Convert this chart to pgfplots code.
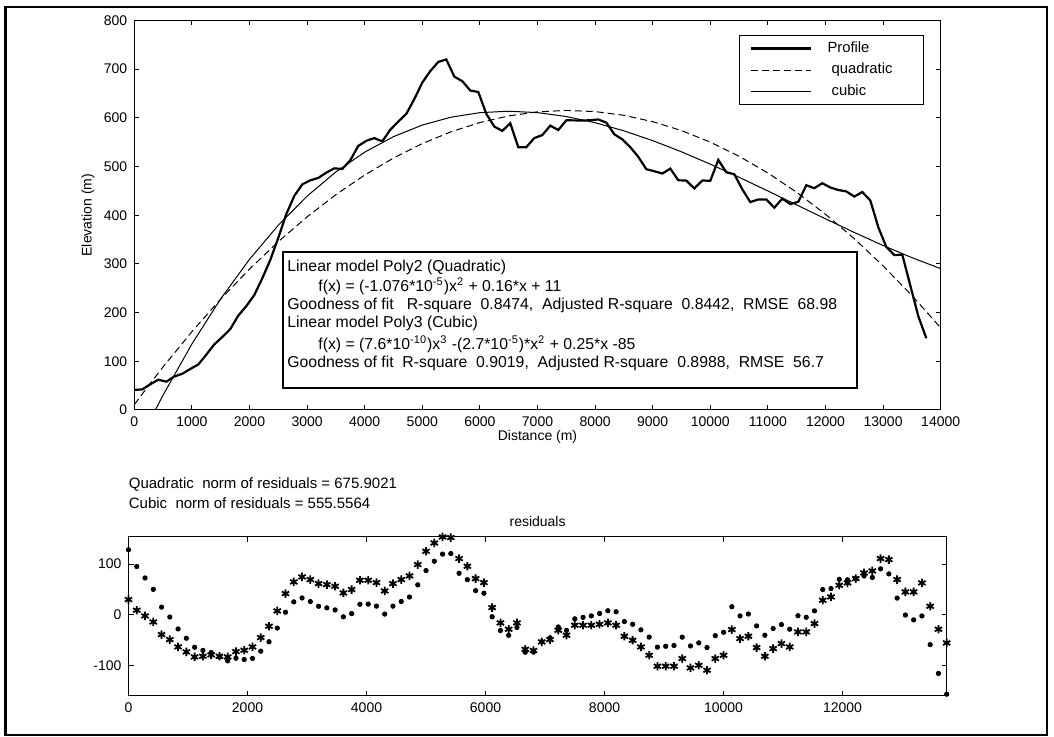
\documentclass[border=0pt]{standalone}
\usepackage{pgfplots}
\pgfplotsset{compat=1.18}
\usepackage{pgfplotstable}
\usepackage{fontspec}
\setmainfont{Liberation Sans}

\pgfplotstableread{
x P rq rc
0 41.2 30.2 128.2
138.9 42.3 9.2 95.3
277.8 52.8 -2.0 72.8
416.7 62.2 -13.8 50.3
555.6 58.2 -38.7 15.3
694.4 68.7 -48.6 -4.2
833.3 74.4 -63.0 -27.6
972.2 84.2 -72.8 -45.9
1111.1 93.5 -82.7 -63.7
1250 113.6 -81.4 -69.8
1388.9 134.7 -78.7 -74.0
1527.8 149.9 -81.4 -83.1
1666.7 166.2 -82.7 -90.4
1805.6 193.9 -72.2 -85.3
1944.4 213.2 -69.6 -87.7
2083.3 236.1 -63.0 -85.7
2222.2 270.4 -44.6 -71.4
2361.1 308.2 -22.3 -52.8
2500 353.5 7.9 -25.9
2638.9 402.3 42.0 5.3
2777.8 439.6 65.0 25.7
2916.7 463.3 74.8 33.4
3055.6 471.5 69.6 26.4
3194.4 476.6 61.7 17.0
3333.3 487.3 59.7 13.9
3472.2 496.2 56.4 9.8
3611.1 494.9 43.3 -3.8
3750 512.9 49.9 2.6
3888.9 542.2 68.2 20.9
4027.8 552.7 68.2 21.3
4166.7 558.3 63.6 17.3
4305.6 551.6 47.2 1.7
4444.4 575.5 61.7 17.3
4583.3 592.3 69.6 26.5
4722.2 608.0 76.8 35.2
4861.1 638.4 99.1 59.2
5000 672.3 125.3 87.3
5138.9 696.0 141.7 105.7
5277.8 714.7 153.5 119.7
5416.7 719.8 152.2 120.8
5555.6 684.6 110.9 81.9
5694.4 675.1 95.8 69.4
5833.3 656.0 71.5 47.8
5972.2 652.9 63.6 42.7
6111.1 608.1 14.4 -3.6
6250 582.0 -15.7 -30.7
6388.9 573.1 -28.2 -40.2
6527.8 588.8 -15.7 -24.7
6666.7 539.6 -67.6 -73.5
6805.6 539.6 -70.0 -72.8
6944.4 558.4 -53.1 -52.8
7083.3 564.4 -48.6 -45.2
7222.2 583.9 -30.2 -23.7
7361.1 574.8 -40.0 -30.5
7500 594.8 -20.3 -7.7
7638.9 594.7 -20.3 -4.8
7777.8 594.2 -20.3 -1.9
7916.7 595.1 -18.4 2.8
8055.6 596.5 -15.7 8.2
8194.4 590.1 -20.3 6.2
8333.3 566.2 -42.0 -13.0
8472.2 555.7 -49.9 -18.5
8611.1 539.6 -63.0 -29.4
8750 519.8 -79.4 -43.7
8888.9 494.4 -101.0 -63.4
9027.8 490.2 -101.0 -61.7
9166.7 485.5 -101.0 -60.2
9305.6 495.6 -85.9 -43.8
9444.4 471.7 -104.3 -61.1
9583.3 471.0 -99.1 -55.0
9722.2 454.9 -108.9 -64.2
9861.1 471.2 -85.9 -40.8
10000 470.6 -79.4 -34.2
10138.9 513.6 -28.9 16.1
10277.8 488.0 -46.6 -2.0
10416.7 484.2 -42.0 1.8
10555.6 453.1 -64.3 -21.6
10694.4 426.9 -81.4 -40.1
10833.3 432.4 -66.3 -26.8
10972.2 432.3 -56.4 -19.0
11111.1 415.3 -63.0 -28.1
11250 434.0 -33.5 -1.5
11388.9 422.8 -33.5 -4.7
11527.8 427.5 -17.1 8.0
11666.7 461.5 28.9 49.9
11805.6 455.5 35.4 51.9
11944.4 465.6 58.4 70.0
12083.3 456.9 63.0 69.2
12222.2 451.7 71.5 71.8
12361.1 448.8 82.7 76.7
12500 438.2 86.6 73.7
12638.9 447.6 110.9 90.7
12777.8 430.3 108.9 80.8
12916.7 375.2 69.6 33.1
13055.6 334.8 45.3 -0.2
13194.4 318.2 45.3 -9.7
13333.3 318.9 63.0 -2.0
13472.2 255.6 17.1 -58.5
13611.1 192.5 -28.2 -115.2
13750 147.4 -55.1 -156.0
}\profiledata

\pgfplotstableread{
x q c
0 11.00 -87.00
250 50.46 -26.54
500 88.59 30.65
1000 160.84 135.54
1500 227.77 228.24
2000 289.36 309.35
2500 345.63 379.44
3000 396.56 439.10
3500 442.17 488.91
4000 482.44 529.44
4500 517.39 561.29
5000 547.00 585.04
5500 571.29 601.26
6000 590.24 610.54
6500 603.87 613.46
7000 612.16 610.61
7500 615.13 602.56
8000 612.76 589.91
8500 605.07 573.21
9000 592.04 553.08
9500 573.69 530.08
10000 550.00 504.80
10500 520.99 477.81
11000 486.64 449.72
11500 446.97 421.07
12000 401.96 392.49
12500 351.63 364.52
13000 295.96 337.77
13500 234.97 312.82
14000 168.64 290.23
}\fitdata

\begin{document}
\begin{tikzpicture}[font=\fontsize{7}{8.4}\selectfont]
\path[use as bounding box] (0pt,0pt) rectangle (527pt,368.5pt);
\draw[line width=0.8pt] (2.5pt,1pt) rectangle (523.5pt,365pt);
\draw[line width=1.5pt] (2.5pt,1pt) -- (2.5pt,365pt);

\pgfplotsset{
  every axis/.append style={
    scale only axis,
    anchor=south west,
    font=\fontsize{7}{8.4}\selectfont,
    tick align=inside,
    major tick length=2.5pt,
    axis line style={line width=0.5pt},
    every tick/.style={black, line width=0.5pt},
    scaled x ticks=false, scaled y ticks=false,
    /pgf/number format/assume math mode=true,
    /pgf/number format/set thousands separator={},
  },
}

\begin{axis}[
  at={(67.15pt,163.5pt)},
  width=403.2pt, height=194.8pt,
  xmin=0, xmax=14000, ymin=0, ymax=800,
  xtick={0,1000,...,14000}, ytick={0,100,...,800},
  xlabel={Distance (m)}, ylabel={Elevation (m)},
  xlabel style={at={(axis description cs:0.5,-0.0693)}, anchor=center},
  ylabel style={at={(axis description cs:-0.0574,0.5)}, anchor=center},
  legend cell align=left,
  legend image code/.code={\draw[#1] (0pt,0pt) -- (30pt,0pt);},
  legend style={at={(0.9793,0.9625)}, anchor=north east, draw=black, line width=0.5pt,
    font=\fontsize{7.4}{8.8}\selectfont, inner xsep=5.5pt, inner ysep=1.1pt,
    nodes={text height=5.5pt, text depth=1.7pt, inner ysep=1.8pt, inner xsep=0pt},
    /tikz/every odd column/.append style={column sep=7.5pt}},
]
\addplot[black, line width=1.1pt] table[x=x,y=P] {\profiledata};
\addplot[black, line width=0.5pt, dash pattern=on 3.5pt off 2pt] table[x=x,y=q] {\fitdata};
\addplot[black, line width=0.5pt] table[x=x,y=c] {\fitdata};
\legend{\makebox[42.5pt][l]{Profile},\makebox[42.5pt][l]{\ quadratic},\makebox[42.5pt][l]{\ cubic}}
\end{axis}

\draw[fill=white, line width=0.6pt] (141.5pt,174.5pt) rectangle (428.5pt,242.5pt);
\begin{scope}[font=\fontsize{7.9}{9.4}\selectfont]
\node[anchor=west, inner sep=0pt] at (143.5pt,235pt) {Linear model Poly2 (Quadratic)};
\node[anchor=west, inner sep=0pt] at (159pt,225.5pt) {f(x) = (-1.076*10\textsuperscript{-5})x\textsuperscript{2} + 0.16*x + 11};
\node[anchor=west, inner sep=0pt] at (143.5pt,216pt) {Goodness of fit\ \ \ R-square\ \ 0.8474,\ \ Adjusted R-square\ \ 0.8442,\ \ RMSE\ \ 68.98};
\node[anchor=west, inner sep=0pt] at (143.5pt,207pt) {Linear model Poly3 (Cubic)};
\node[anchor=west, inner sep=0pt] at (159pt,196.5pt) {f(x) = (7.6*10\textsuperscript{-10})x\textsuperscript{3} -(2.7*10\textsuperscript{-5})*x\textsuperscript{2} + 0.25*x -85};
\node[anchor=west, inner sep=0pt] at (143.5pt,187pt) {Goodness of fit\ \ R-square\ \ 0.9019,\ \ Adjusted R-square\ \ 0.8988,\ \ RMSE\ \ 56.7};
\end{scope}

\begin{axis}[
  at={(64.25pt,20.65pt)},
  width=409.1pt, height=79.5pt,
  xmin=0, xmax=13750, ymin=-159, ymax=154,
  xtick={0,2000,...,12000}, ytick={-100,0,100},
  clip=false,
  title={residuals},
  title style={at={(axis description cs:0.5,1.0925)}, anchor=center, yshift=-6pt},
]
\addplot[only marks, mark=asterisk, mark size=2.1pt, mark options={line width=0.9pt, black}] table[x=x,y=rq] {\profiledata};
\addplot[only marks, mark=*, mark size=1.1pt, mark options={black}] table[x=x,y=rc] {\profiledata};
\node[anchor=west, inner sep=0pt, font=\fontsize{7.5}{9}\selectfont] at (axis description cs:0,1.3264) {Quadratic\ \ norm of residuals = 675.9021};
\node[anchor=west, inner sep=0pt, font=\fontsize{7.5}{9}\selectfont] at (axis description cs:0,1.2094) {Cubic\ \ norm of residuals = 555.5564};
\end{axis}
\end{tikzpicture}
\end{document}
